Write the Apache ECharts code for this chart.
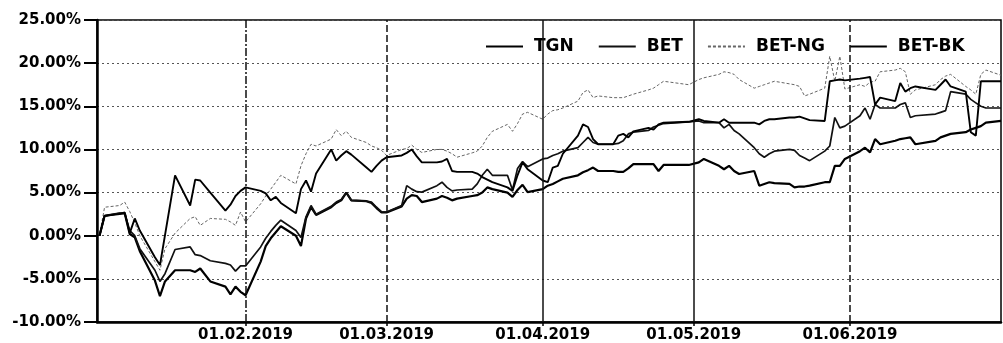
<!DOCTYPE html>
<html>
<head>
<meta charset="utf-8">
<script src="https://cdn.jsdelivr.net/npm/echarts@6/dist/echarts.min.js"></script>
<style>
  html, body { margin: 0; padding: 0; background: #ffffff; }
  #chart { width: 1003px; height: 343px; }
</style>
</head>
<body>
<div id="chart"></div>
<script>
// Trading days, 2019 (MM-DD)
const days = [
  '01-03','01-04','01-07','01-08','01-09','01-10','01-11','01-14','01-15','01-16','01-17','01-18','01-21','01-22','01-23','01-25','01-28','01-29','01-30','01-31',
  '02-01','02-04','02-05','02-06','02-07','02-08','02-11','02-12','02-13','02-14','02-15','02-18','02-19','02-20','02-21','02-22','02-25','02-26','02-27','02-28',
  '03-01','03-04','03-05','03-06','03-07','03-08','03-11','03-12','03-13','03-14','03-15','03-18','03-19','03-20','03-21','03-22','03-25','03-26','03-27','03-28','03-29',
  '04-01','04-02','04-03','04-04','04-05','04-08','04-09','04-10','04-11','04-12','04-15','04-16','04-17','04-18','04-19','04-22','04-23','04-24','04-25','04-30',
  '05-02','05-03','05-06','05-07','05-08','05-09','05-10','05-13','05-14','05-15','05-16','05-17','05-20','05-21','05-22','05-23','05-24','05-27','05-28','05-29','05-30','05-31',
  '06-03','06-04','06-05','06-06','06-07','06-10','06-11','06-12','06-13','06-14','06-18','06-19','06-20','06-21','06-24','06-25','06-26','06-27','06-28',
  '07-01'
];

// Cumulative return since 03.01.2019, %
const tgn = [
  0.0, 2.3, 2.5, 2.7, 0.3, 2.0, 0.6, -2.5, -3.4, null, null, 7.0, 3.5, 6.5, 6.4, 5.0, 2.9, 3.6, 4.6, 5.2,
  5.6, 5.2, 4.9, 4.1, 4.5, 3.8, 2.6, 5.4, 6.4, 5.1, 7.2, 10.0, 8.7, 9.3, 9.8, 9.4, 7.9, 7.4, 8.1, 8.7,
  9.1, 9.3, 9.6, 10.0, 9.2, 8.5, 8.5, 8.6, 8.9, 7.5, 7.4, 7.4, 7.2, 6.8, 6.5, 6.2, 5.6, 5.2, 7.0, 8.5, 7.7,
  6.4, 6.2, 7.9, 8.1, 9.5, 11.6, 12.9, 12.6, 11.2, 10.6, 10.6, 11.6, 11.8, 11.4, 12.1, 12.5, 12.3, 12.9, 13.1, 13.2,
  13.5, 13.3, 13.1, 13.5, 13.1, 13.1, 13.1, 13.1, 12.9, 13.3, 13.5, 13.5, 13.7, 13.7, 13.8, 13.6, 13.4, 13.3, 17.9, 18.0, 18.1, 18.0,
  18.2, 18.3, 18.4, 15.2, 16.0, 15.6, 17.7, 16.7, 17.1, 17.3, 16.9, 17.5, 18.1, 17.3, 16.7, 12.0, 11.6, 17.9, 17.9,
  17.9
];

const bet = [
  0.0, 2.3, 2.6, 2.6, 0.6, 0.0, -1.5, -4.0, -5.3, -4.4, null, -1.6, -1.3, -2.2, -2.3, -2.9, -3.2, -3.4, -4.1, -3.5,
  -3.5, -1.3, -0.3, 0.5, 1.2, 1.8, 0.6, -0.2, 2.2, 3.5, 2.5, 3.4, 3.9, 4.2, 5.0, 4.1, 4.0, 3.9, 3.3, 2.75,
  2.75, 3.5, 5.8, 5.4, 5.1, 5.05, 5.8, 6.2, 5.6, 5.2, 5.3, 5.4, 6.0, 7.0, 7.7, 7.0, 7.0, 5.3, 7.8, 8.6, 8.0,
  8.9, 9.0, 9.3, 9.5, 9.8, 10.2, 10.8, 11.4, 10.8, 10.6, 10.6, 10.7, 11.0, 11.8, 12.0, 12.2, 12.6, 12.8, 13.0, 13.2,
  13.3, 13.1, 13.1, 12.5, 12.9, 12.2, 11.8, 10.2, 9.5, 9.1, 9.5, 9.8, 10.0, 9.9, 9.3, 9.0, 8.7, 9.8, 10.4, 13.7, 12.5, 12.7,
  13.9, 14.8, 13.5, 15.2, 14.8, 14.8, 15.2, 15.4, 13.7, 13.9, 14.1, 14.3, 14.5, 16.7, 16.4, 15.8, 15.4, 15.0, 14.8,
  14.8
];

const betNg = [
  0.0, 3.3, 3.5, 3.9, 2.8, 1.5, 0.0, -3.0, -4.0, -1.5, null, 0.3, 2.0, 2.2, 1.2, 2.0, 1.9, 1.6, 1.2, 2.75,
  1.6, 3.7, 4.6, 5.4, 6.2, 7.0, 6.0, 8.1, 9.5, 10.6, 10.4, 11.2, 12.3, 11.6, 12.1, 11.4, 10.8, 10.4, 10.2, 9.9,
  9.3, 10.0, 10.1, 10.5, 10.0, 9.65, 10.0, 10.0, 9.8, 9.5, 9.1, 9.6, 9.8, 10.4, 11.4, 12.1, 12.9, 12.1, 13.0, 14.1, 14.3,
  13.5, 14.1, 14.5, 14.6, 14.8, 15.6, 16.6, 16.9, 16.0, 16.2, 16.0, 16.0, 16.0, 16.2, 16.4, 16.9, 17.1, 17.5, 17.9, 17.5,
  18.1, 18.3, 18.7, 19.0, 18.9, 18.7, 18.1, 17.1, 17.3, 17.5, 17.7, 17.9, 17.6, 17.5, 17.3, 16.2, 16.4, 17.1, 20.8, 17.9, 20.8, 17.0,
  17.5, 17.3, 17.8, 17.9, 19.0, 19.2, 19.4, 19.0, 16.4, 16.9, 17.5, 18.1, 18.5, 18.7, 17.3, 16.9, 16.4, 18.7, 19.2,
  18.6
];

const betBk = [
  0.0, 2.3, 2.6, 2.6, 0.2, -0.2, -1.8, -5.2, -7.0, -5.3, null, -4.0, -4.0, -4.2, -3.8, -5.3, -5.9, -6.8, -5.9, -6.5,
  -6.9, -3.0, -1.2, -0.3, 0.4, 1.1, 0.0, -1.2, 2.0, 3.3, 2.4, 3.3, 3.8, 4.1, 5.0, 4.1, 4.0, 3.8, 3.2, 2.7,
  2.7, 3.4, 4.3, 4.7, 4.6, 3.9, 4.3, 4.6, 4.4, 4.1, 4.3, 4.6, 4.7, 5.0, 5.6, 5.4, 5.0, 4.5, 5.3, 5.9, 5.05,
  5.4, 5.8, 6.0, 6.3, 6.6, 7.0, 7.35, 7.6, 7.9, 7.5, 7.5, 7.4, 7.4, 7.8, 8.3, 8.3, 8.3, 7.5, 8.2, 8.2,
  8.5, 8.9, 8.1, 7.7, 8.1, 7.5, 7.15, 7.5, 5.8, 6.0, 6.2, 6.1, 6.0, 5.6, 5.7, 5.7, 5.8, 6.2, 6.2, 8.1, 8.1, 8.9,
  9.8, 10.2, 9.65, 11.2, 10.6, 11.0, 11.2, 11.3, 11.4, 10.6, 11.0, 11.4, 11.6, 11.8, 12.0, 12.3, 12.5, 12.7, 13.1,
  13.3
];

const yTicks = [-10, -5, 0, 5, 10, 15, 20, 25];
const seriesNames = ['TGN', 'BET', 'BET-NG', 'BET-BK'];
// Month starts marked with vertical rules
const monthStarts = ['02-01', '03-01', '04-01', '05-01', '06-01'];

function toTime(md) {
  const [m, d] = md.split('-').map(Number);
  return new Date(2019, m - 1, d).getTime();
}
function pairs(values) {
  return days.map((md, i) => [toTime(md), values[i]]);
}

// Each month rule gets its own dash pattern
const ruleDash = [[8, 2, 2, 2], [7, 3], 'solid', 'solid', [7, 3]];
const monthRules = monthStarts.map((md, i) => ({
  xAxis: toTime(md),
  lineStyle: { color: '#111', width: 1.5, type: ruleDash[i] }
}));

const labelFont = { fontFamily: 'DejaVu Sans', fontWeight: 'bold', fontSize: 15, color: '#000' };

const chart = echarts.init(document.getElementById('chart'), null, { renderer: 'canvas' });
chart.setOption({
  animation: false,
  backgroundColor: '#ffffff',
  grid: {
    left: 97, right: 2, top: 20, bottom: 19,
    show: true, borderColor: '#000', borderWidth: 1.5, backgroundColor: 'transparent'
  },
  legend: {
    data: seriesNames,
    left: 480, top: 33,
    itemWidth: 37, itemHeight: 18, itemGap: 24,
    itemStyle: { opacity: 0 },
    textStyle: { fontFamily: 'DejaVu Sans', fontWeight: 'bold', fontSize: 17, color: '#000', padding: [0, 0, 0, 6] }
  },
  xAxis: {
    type: 'time',
    min: new Date(2019, 0, 2, 12).getTime(),
    max: new Date(2019, 6, 1).getTime(),
    minInterval: 28 * 86400000,
    axisLine: { onZero: false, lineStyle: { color: '#000', width: 2.5 } },
    axisTick: { show: true, length: 4, lineStyle: { color: '#000', width: 1.5 } },
    axisLabel: Object.assign({
      margin: 6,
      showMinLabel: false,
      showMaxLabel: false,
      formatter: function (v) {
        const d = new Date(v);
        if (d.getMonth() === 6) return '';
        const dd = String(d.getDate()).padStart(2, '0');
        const mm = String(d.getMonth() + 1).padStart(2, '0');
        return dd + '.' + mm + '.' + d.getFullYear();
      }
    }, labelFont),
    splitLine: { show: false }
  },
  yAxis: {
    type: 'value',
    min: yTicks[0], max: yTicks[yTicks.length - 1], interval: 5,
    axisLine: { show: true, lineStyle: { color: '#000', width: 2.5 } },
    axisTick: { show: true, length: 13, lineStyle: { color: '#000', width: 2 } },
    axisLabel: Object.assign({
      margin: 16,
      formatter: v => v.toFixed(2) + '%'
    }, labelFont),
    splitLine: { show: true, lineStyle: { color: '#555', width: 1, type: [2, 3] } }
  },
  series: [
    {
      name: 'BET-NG', type: 'line', data: pairs(betNg), connectNulls: true,
      symbol: 'none', z: 2,
      lineStyle: { color: '#666', width: 1, type: [3, 2] }, itemStyle: { color: '#666' },
      markLine: {
        silent: true, symbol: 'none', label: { show: false },
        data: monthRules
      }
    },
    {
      name: 'BET-BK', type: 'line', data: pairs(betBk), connectNulls: true,
      symbol: 'none', z: 3,
      lineStyle: { color: '#000', width: 2.2 }, itemStyle: { color: '#000' }
    },
    {
      name: 'BET', type: 'line', data: pairs(bet), connectNulls: true,
      symbol: 'none', z: 3,
      lineStyle: { color: '#111', width: 1.7 }, itemStyle: { color: '#111' }
    },
    {
      name: 'TGN', type: 'line', data: pairs(tgn), connectNulls: true,
      symbol: 'none', z: 4,
      lineStyle: { color: '#000', width: 1.9 }, itemStyle: { color: '#000' }
    }
  ]
});
</script>
</body>
</html>
